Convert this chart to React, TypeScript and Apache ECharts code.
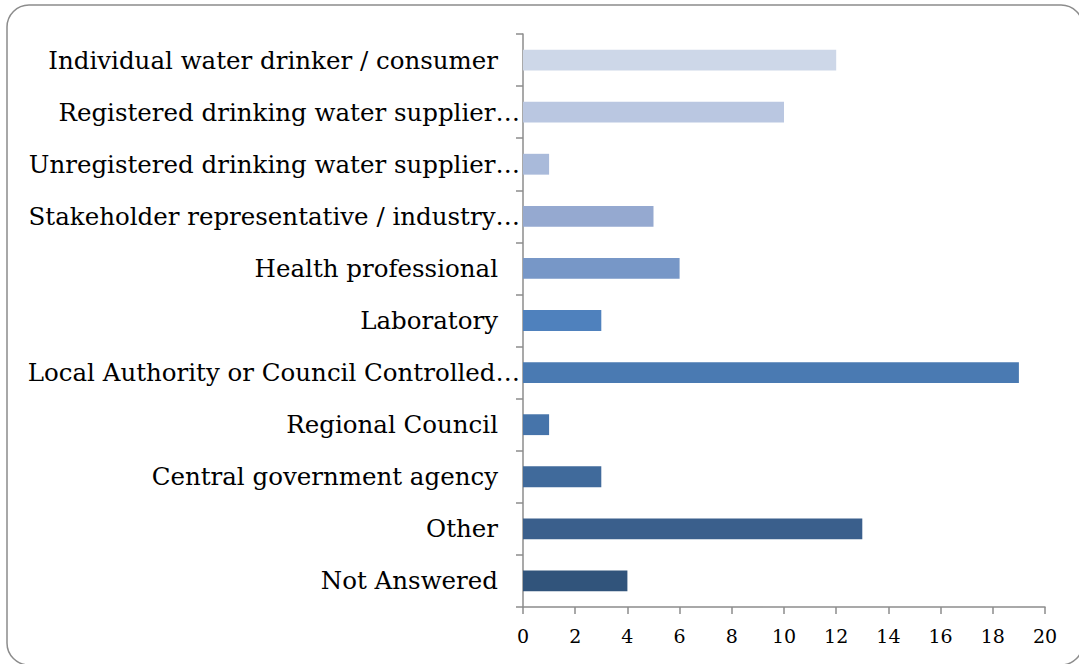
import React, { useEffect, useRef } from "react";
import * as echarts from "echarts";

const categories: string[] = [
  "Individual water drinker / consumer",
  "Registered drinking water supplier…",
  "Unregistered drinking water supplier…",
  "Stakeholder representative / industry…",
  "Health professional",
  "Laboratory",
  "Local Authority or Council Controlled…",
  "Regional Council",
  "Central government agency",
  "Other",
  "Not Answered",
];
const values: number[] = [12, 10, 1, 5, 6, 3, 19, 1, 3, 13, 4];
const barColors: string[] = [
  "#CDD7E8", "#BAC7E1", "#A9BADA", "#95A9D0", "#7797C7", "#4F81BD",
  "#4A7AB2", "#4674AA", "#406A9B", "#3A5F8C", "#31547B",
];

export default function App() {
  const ref = useRef<HTMLDivElement>(null);
  useEffect(() => {
    if (!ref.current) return;
    const chart = echarts.init(ref.current, null, { renderer: "svg" });
    const font = "DejaVu Serif";
    const fs = 24.5;
    chart.setOption({
      animation: false,
      backgroundColor: "#fff",
      graphic: [
        {
          type: "rect",
          shape: { x: 7, y: 5, width: 1076, height: 660, r: 22 },
          style: { fill: "none", stroke: "#8c8c8c", lineWidth: 1.5 },
          silent: true,
        },
      ],
      grid: { left: 523, right: 34, top: 34, bottom: 57, containLabel: false },
      xAxis: {
        type: "value",
        min: 0,
        max: 20,
        interval: 2,
        splitLine: { show: false },
        axisLine: { show: true, lineStyle: { color: "#8c8c8c", width: 1.5 } },
        axisTick: { show: true, length: 7, lineStyle: { color: "#8c8c8c", width: 1.5 } },
        axisLabel: { color: "#000", fontFamily: font, fontSize: 19, margin: 19 },
      },
      yAxis: {
        type: "category",
        inverse: true,
        data: categories,
        axisLine: { show: true, lineStyle: { color: "#8c8c8c", width: 1.5 } },
        axisTick: { show: true, length: 7, alignWithLabel: false, lineStyle: { color: "#8c8c8c", width: 1.5 } },
        axisLabel: {
          color: "#000",
          fontFamily: font,
          fontSize: fs,
          margin: 3,
          formatter: (v: string) =>
            v.endsWith("…") ? `{t|${v}}` : `{n|${v}}`,
          rich: {
            t: { fontFamily: font, fontSize: fs, color: "#000" },
            n: { fontFamily: font, fontSize: fs, color: "#000", padding: [0, 22, 0, 0] },
          },
        },
      },
      series: [
        {
          type: "bar",
          data: values.map((v, i) => ({ value: v, itemStyle: { color: barColors[i] } })),
          barCategoryGap: "60%",
        },
      ],
    });
    return () => chart.dispose();
  }, []);
  return (
    <div
      ref={ref}
      style={{ position: "fixed", left: 0, top: 0, width: 1079, height: 664 }}
    />
  );
}
